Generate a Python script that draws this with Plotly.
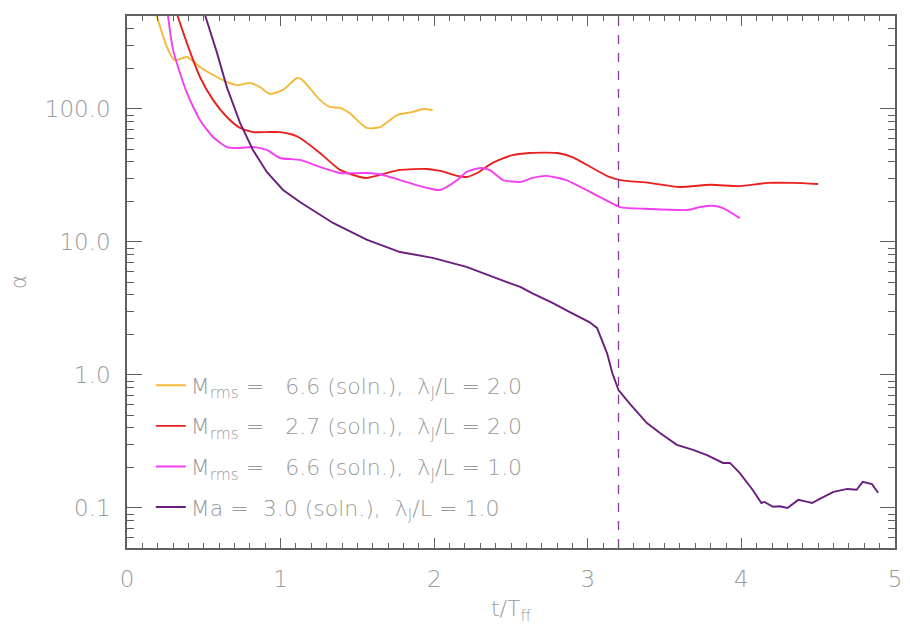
import plotly.graph_objects as go

# ---- data ----
t_yellow = [0.17, 0.26, 0.31, 0.39, 0.475, 0.56, 0.65, 0.716, 0.80, 0.866, 0.93, 1.016, 1.107, 1.14,
            1.256, 1.32, 1.387, 1.45, 1.56, 1.647, 1.758, 1.862, 1.927, 1.99]
a_yellow = [620, 292, 233, 246, 207, 180, 160, 151, 157, 146, 130, 139, 171, 166,
            117, 103.5, 102, 93, 72, 73, 90, 95, 100, 98]

t_red = [0.30, 0.39, 0.475, 0.56, 0.65, 0.736, 0.82, 0.91, 0.996, 1.08, 1.126, 1.256, 1.387, 1.517,
         1.56, 1.667, 1.777, 1.953, 2.04, 2.15, 2.21, 2.28, 2.38, 2.51, 2.62, 2.80, 2.90, 3.03,
         3.14, 3.21, 3.40, 3.60, 3.80, 3.99, 4.17, 4.34, 4.50]
a_red = [630, 313, 174, 117, 87, 72, 67, 67, 67, 64, 60.5, 46.7, 34.8, 30.8,
         30.3, 32.4, 34.8, 35.4, 34.2, 31.4, 30.8, 33, 39.3, 45, 46.7, 46.7, 43.5, 36,
         30.8, 29.2, 27.8, 25.9, 26.9, 26.3, 27.8, 27.8, 27.3]

t_magenta = [0.255, 0.30, 0.39, 0.475, 0.56, 0.65, 0.736, 0.82, 0.91, 0.996, 1.126, 1.256, 1.387,
             1.56, 1.667, 1.777, 1.953, 2.04, 2.15, 2.21, 2.30, 2.36, 2.45, 2.56, 2.64, 2.73,
             2.86, 2.99, 3.14, 3.21, 3.40, 3.65, 3.73, 3.815, 3.88, 3.99]
a_magenta = [650, 278, 132, 82.6, 61.5, 51.7, 50.9, 51.7, 49.2, 42.8, 41.4, 36.7, 33,
             33, 31.9, 29.2, 25.5, 24.6, 29.2, 33.6, 36, 34.8, 29.2, 28.3, 30.3, 31.4,
             29.2, 24.6, 20, 18.3, 17.7, 17.4, 18.3, 18.7, 18, 15.1]

t_purple = [0.49, 0.51, 0.586, 0.65, 0.736, 0.82, 0.91, 1.016, 1.126, 1.341, 1.56, 1.777, 1.99,
            2.21, 2.43, 2.56, 2.64, 2.77, 2.88, 3.01, 3.06, 3.125, 3.16, 3.20, 3.27, 3.385,
            3.47, 3.58, 3.685, 3.776, 3.88, 3.925, 3.99, 4.075, 4.13, 4.15, 4.206, 4.25, 4.30,
            4.37, 4.43, 4.46, 4.51, 4.60, 4.69, 4.75, 4.79, 4.85, 4.89]
a_purple = [600, 500, 264, 146, 78.5, 49.2, 33.6, 24.6, 20, 13.9, 10.4, 8.4, 7.6,
            6.5, 5.2, 4.6, 4.1, 3.48, 2.98, 2.5, 2.26, 1.46, 1.03, 0.77, 0.615, 0.435,
            0.366, 0.298, 0.273, 0.25, 0.218, 0.218, 0.183, 0.136, 0.109, 0.111, 0.102, 0.103, 0.1,
            0.115, 0.111, 0.109, 0.117, 0.132, 0.139, 0.137, 0.157, 0.151, 0.13]

t_marker = 3.2

names = [
    "M<sub>rms</sub> = \u00a0\u00a06.6 (soln.), \u00a0\u03bb<sub>J</sub>/L = 2.0",
    "M<sub>rms</sub> = \u00a0\u00a02.7 (soln.), \u00a0\u03bb<sub>J</sub>/L = 2.0",
    "M<sub>rms</sub> = \u00a0\u00a06.6 (soln.), \u00a0\u03bb<sub>J</sub>/L = 1.0",
    "Ma = \u00a03.0 (soln.), \u00a0\u03bb<sub>J</sub>/L = 1.0",
]
colors = ["#f4b93a", "#e8201e", "#f23ff2", "#6b1f7c"]

y_major = [0.1, 1.0, 10.0, 100.0]
y_major_text = ["0.1", "1.0", "10.0", "100.0"]
y_minor = [m * 10.0 ** e for e in (-2, -1, 0, 1, 2) for m in range(2, 10)]
y_minor = [v for v in y_minor if 0.05 <= v <= 500]

FONT = "DejaVu Sans"
GREY = "#9a9a9a"
AXC = "#606060"

fig = go.Figure()
series = [(t_yellow, a_yellow, "spline"), (t_red, a_red, "spline"),
          (t_magenta, a_magenta, "spline"), (t_purple, a_purple, "linear")]
for i, (t, a, shape) in enumerate(series):
    fig.add_trace(go.Scatter(
        x=t, y=a, mode="lines", name=names[i], legendgroup=str(i),
        line=dict(color=colors[i], width=1.9, shape=shape, smoothing=0.6),
    ))

fig.add_trace(go.Scatter(
    x=[t_marker, t_marker], y=[0.05, 500], mode="lines", showlegend=False,
    line=dict(color="#8a3a9a", width=1.3, dash="dash"),
))

fig.update_layout(
    width=910, height=625,
    paper_bgcolor="white", plot_bgcolor="white",
    margin=dict(l=127, r=15, t=16, b=77),
    font=dict(family=FONT, color=GREY, size=22, weight=300),
    legend=dict(
        x=0.031, y=0.345, xanchor="left", yanchor="top",
        bgcolor="rgba(0,0,0,0)", font=dict(size=22, color=GREY, family=FONT, weight=300),
        traceorder="grouped", tracegroupgap=9,
    ),
    showlegend=True,
)

fig.update_xaxes(
    range=[0, 5], tickvals=[0, 1, 2, 3, 4, 5], ticktext=["0", "1", "2", "3", "4", "5"],
    ticks="inside", ticklen=10, tickwidth=1.3, tickcolor=AXC,
    minor=dict(dtick=0.1, ticks="inside", ticklen=5, tickwidth=1.2, tickcolor=AXC),
    showline=True, linecolor=AXC, linewidth=1.5, mirror="ticks",
    showgrid=False, zeroline=False, automargin=False,
    tickfont=dict(size=23, color=GREY), ticklabelstandoff=10,
    title=dict(text="t/T<sub>ff</sub>", font=dict(size=22, color=GREY), standoff=13),
)
fig.update_yaxes(
    type="log", range=[-1.30103, 2.69897],
    tickvals=y_major, ticktext=y_major_text,
    ticks="inside", ticklen=15, tickwidth=1.3, tickcolor=AXC,
    minor=dict(tickvals=y_minor, ticks="inside", ticklen=7, tickwidth=1.2, tickcolor=AXC),
    showline=True, linecolor=AXC, linewidth=1.5, mirror="ticks",
    showgrid=False, zeroline=False, automargin=False,
    tickfont=dict(size=23, color=GREY), ticklabelstandoff=10,
    title=dict(text="\u03b1", font=dict(size=22, color=GREY), standoff=12),
)

fig.write_html("out.html", config={"displayModeBar": False},
               post_script="document.body.style.margin='0px';")
